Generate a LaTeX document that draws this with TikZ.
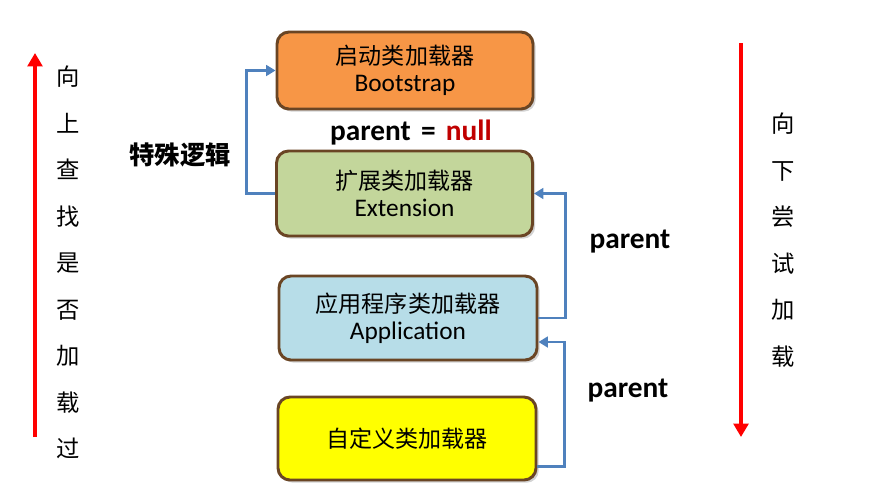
\documentclass[tikz,border=0pt]{standalone}
\usepackage{fontspec}
\setmainfont{Carlito}
\newfontfamily\cjk{Noto Sans CJK SC}
\usetikzlibrary{arrows.meta,shadows,calc}
\definecolor{boxborder}{HTML}{6A4524}
\definecolor{bootfill}{HTML}{F79646}
\definecolor{extfill}{HTML}{C3D69B}
\definecolor{appfill}{HTML}{B7DDE8}
\definecolor{custfill}{HTML}{FFFF00}
\definecolor{connblue}{HTML}{4F81BD}
\definecolor{nullred}{HTML}{C00000}
\tikzset{
  loader/.style={draw=boxborder, line width=2.2pt, rounded corners=9pt,
    minimum width=192pt, align=center, inner sep=0pt,
    font=\fontsize{19}{20.5}\selectfont,
    drop shadow={shadow xshift=2pt, shadow yshift=-2pt, opacity=0.35}},
  conn/.style={draw=connblue, line width=2.2pt, -{Triangle[length=7pt,width=8pt]}},
  bigarrow/.style={draw=red, line width=3.5pt, -{Triangle[length=10pt,width=11pt]}},
  boldlabel/.style={font=\bfseries\fontsize{22}{24}\selectfont},
  vtext/.style={align=center, font=\cjk\fontsize{17.5}{34.9}\selectfont}
}
\newcommand{\zh}[1]{{\cjk\fontsize{17.3}{20.5}\selectfont #1}}
\begin{document}
\begin{tikzpicture}[x=0.75pt,y=-0.75pt]
\useasboundingbox (0,0) rectangle (878,487);
\node[loader, fill=bootfill, minimum height=57.75pt] (boot) at (405,70.5) {\zh{启动类加载器}\\Bootstrap};
\node[loader, fill=extfill, minimum height=63.75pt] (ext) at (404.5,193.5) {\zh{扩展类加载器}\\Extension};
\node[loader, fill=appfill, minimum height=63pt, minimum width=193.5pt] (app) at (408,318) {\zh{应用程序类加载器}\\Application};
\node[loader, fill=custfill, minimum height=62.25pt, minimum width=193.5pt] (cust) at (407,438.5) {\zh{自定义类加载器}};

\draw[conn] (ext.west) -- ++(-29,0) |- (boot.west);
\draw[conn] (app.east) -- ++(27,0) |- (ext.east);
\draw[conn] ([yshift=-21pt]cust.east) -- ++(27,0) |- ([yshift=-18pt]app.east);

\node[boldlabel] (pnull) at (411,133) {parent\hspace{0.35em}=\hspace{0.35em}\textcolor{nullred}{null}};
\node[font=\cjk\bfseries\fontsize{19}{21}\selectfont] (special) at (180,155) {特殊逻辑};
\node[boldlabel] (p1) at (630,242) {parent};
\node[boldlabel] (p2) at (628,391) {parent};

\coordinate (lbot) at (35,437);
\coordinate (ltop) at (35,53);
\draw[bigarrow] (lbot) -- (ltop);
\coordinate (rtop) at (741,43);
\coordinate (rbot) at (741,437);
\draw[bigarrow] (rtop) -- (rbot);

\node[vtext] (up) at (68,262.5) {向\\上\\查\\找\\是\\否\\加\\载\\过};
\node[vtext] (down) at (783,240) {向\\下\\尝\\试\\加\\载};
\end{tikzpicture}
\end{document}
